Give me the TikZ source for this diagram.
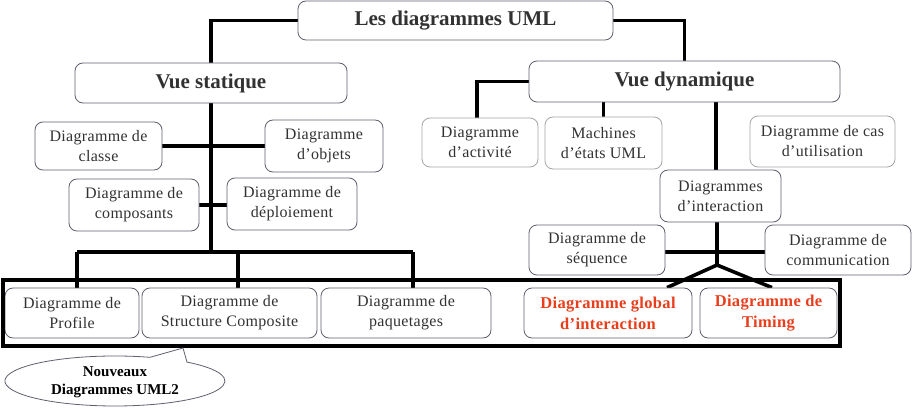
\documentclass[tikz,border=0pt]{standalone}
\usepackage{fontspec}
\setmainfont{Liberation Serif}
\usetikzlibrary{backgrounds}
\definecolor{txt}{RGB}{50,50,50}
\definecolor{bord}{RGB}{95,95,110}
\definecolor{lbord}{RGB}{165,165,170}
\definecolor{redt}{RGB}{232,62,28}
\tikzset{
  box/.style={draw=bord, line width=0.8pt, rounded corners=8pt, fill=white, align=center, inner sep=0pt, text=txt, font=\fontsize{16}{20}\selectfont\addfontfeatures{LetterSpace=2}},
  lbox/.style={box, draw=lbord},
  big/.style={box, font=\bfseries\fontsize{21}{24}\selectfont},
  redbox/.style={box, text=redt, font=\bfseries\fontsize{16.5}{21}\selectfont\addfontfeatures{LetterSpace=2}},
  conn/.style={line width=3.6pt, black},
  frame/.style={line width=4.6pt, black},
}
\begin{document}
\begin{tikzpicture}[x=1pt,y=-1pt]
\useasboundingbox (0,0) rectangle (913,409);
% nodes
\node[big, minimum width=315pt, minimum height=39pt] (title) at (455.5,20.5) {Les diagrammes UML};
\node[big, minimum width=272pt, minimum height=40pt] (vs) at (211,83) {Vue statique};
\node[big, minimum width=311pt, minimum height=41pt] (vd) at (684.5,81.5) {Vue dynamique};
\node[box, minimum width=127pt, minimum height=48pt] (classe) at (98.5,146) {Diagramme de\\classe};
\node[box, minimum width=118pt, minimum height=52pt] (objets) at (324,146) {Diagramme\\d'objets};
\node[box, minimum width=130pt, minimum height=52pt] (compo) at (134,205) {Diagramme de\\composants};
\node[box, minimum width=130pt, minimum height=52pt] (deploi) at (292,204) {Diagramme de\\déploiement};
\node[lbox, minimum width=116pt, minimum height=49pt] (activ) at (480,142.5) {Diagramme\\d'activité};
\node[lbox, minimum width=117pt, minimum height=52pt] (machines) at (603.5,143) {Machines\\d'états UML};
\node[lbox, minimum width=145pt, minimum height=51pt] (cas) at (822.5,141.5) {Diagramme de cas\\d'utilisation};
\node[box, minimum width=121pt, minimum height=52pt] (inter) at (720.5,196) {Diagrammes\\d'interaction};
\node[box, minimum width=136pt, minimum height=50pt] (seq) at (597,250) {Diagramme de\\séquence};
\node[box, minimum width=146pt, minimum height=50pt] (comm) at (838,250) {Diagramme de\\communication};
\node[box, minimum width=134pt, minimum height=50pt] (profile) at (72,313) {Diagramme de\\Profile};
\node[box, minimum width=175pt, minimum height=50pt] (struct) at (229.5,313) {Diagramme de\\Structure Composite};
\node[box, minimum width=170pt, minimum height=50pt] (paquet) at (406,313) {Diagramme de\\paquetages};
\node[redbox, minimum width=168pt, minimum height=50pt] (global) at (608,313) {Diagramme global\\d'interaction};
\node[redbox, minimum width=137pt, minimum height=50pt] (timing) at (768.5,313) {Diagramme de\\Timing};
% coordinates
\coordinate (bus) at (211,252);
\coordinate (busl) at (77,252);
\coordinate (busm) at (238,252);
\coordinate (busr) at (413,252);
\coordinate (fork) at (717,265);
% connectors
\begin{scope}[on background layer]
\draw[conn] (title.west) -| (vs.north);
\draw[conn] (title.east) -| (vd.north);
\draw[conn] (vs.south) -- (bus);
\draw[conn] (busl) -- (busr);
\draw[conn] (busl) -- (busl |- profile.north);
\draw[conn] (busm) -- (busm |- struct.north);
\draw[conn] (busr) -- (busr |- paquet.north);
\draw[conn] (classe.east) -- (objets.west);
\draw[conn] (compo.east) -- (compo.east -| deploi.west);
\draw[conn] (vd.west) -| ([xshift=-3pt]activ.north);
\draw[conn] (machines.north) -- (machines.north |- vd.south);
\draw[conn] ([xshift=-4.5pt]inter.north) -- ([xshift=-4.5pt]inter.north |- vd.south);
\draw[conn] ([xshift=-3.5pt]inter.south) -- (fork);
\draw[conn] ([yshift=-2pt]seq.east) -- ([yshift=-2pt]comm.west);
\draw[conn, line join=miter] ([xshift=59pt]global.north) -- (fork) -- ([xshift=3.5pt]timing.north);
\end{scope}
% frame
\draw[frame] (3,280) rectangle (840,346);
% callout
\draw[draw=bord, line width=0.8pt, fill=white]
  (187,362) -- (183,348) -- (150,357.3)
  arc[start angle=71.4, end angle=409.1, x radius=110pt, y radius=25pt] -- cycle;
\node[font=\bfseries\fontsize{15}{18}\selectfont, text=black, align=center] (nouv) at (115,382) {Nouveaux\\Diagrammes UML2};
\end{tikzpicture}
\end{document}
